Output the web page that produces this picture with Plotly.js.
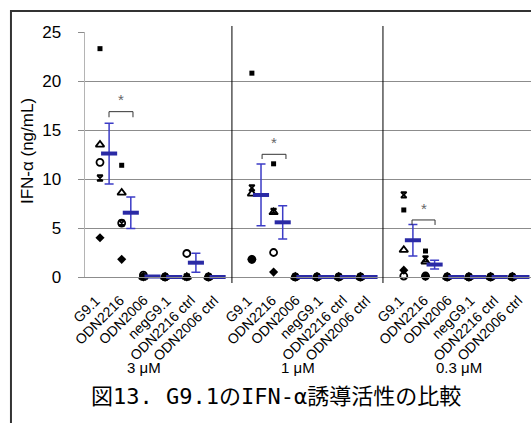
<!DOCTYPE html>
<html>
<head>
<meta charset="utf-8">
<script src="https://cdn.plot.ly/plotly-3.0.1.min.js"></script>
<style>html,body{margin:0;padding:0;background:#fff;overflow:hidden;}#chart{width:531px;height:423px;}</style>
</head>
<body>
<div id="chart"></div>
<script>
// ---- data ----
const categories = ['G9.1', 'ODN2216', 'ODN2006', 'negG9.1', 'ODN2216 ctrl', 'ODN2006 ctrl'];
const doses = ['3 μM', '1 μM', '0.3 μM'];
// per-donor values (IFN-α ng/mL), order: 3 μM x6, 1 μM x6, 0.3 μM x6
const donorSquare   = [23.3, 11.4, 0, 0, 0, 0,   20.8, 11.55, 0, 0, 0, 0,   6.84, 2.65, 0, 0, 0, 0];
const donorTriangle = [13.5, 8.6, 0, 0, 0, 0,    8.5, 6.6, 0, 0, 0, 0,      2.76, 1.56, 0, 0, 0, 0];
const donorX        = [10.1, 5.5, 0, 0, 0, 0,    9.1, 6.7, 0, 0, 0, 0,      8.37, 1.84, 0, 0, 0, 0];
const donorDiamond  = [4.0, 1.8, 0, 0, 0, 0,     1.8, 0.5, 0, 0, 0, 0,      0.7, 0.05, 0, 0, 0, 0];
const donorCircle   = [11.7, 5.5, 0.2, 0, 2.4, 0, 1.8, 2.5, 0, 0, 0, 0,     0.1, 0.1, 0, 0, 0, 0];
const meanValues    = [12.6, 6.56, 0.05, 0, 1.46, 0, 8.37, 5.58, 0, 0, 0, 0, 3.75, 1.27, 0, 0, 0, 0];
const semValues     = [3.1, 1.6, 0.04, 0, 0.97, 0,  3.15, 1.7, 0, 0, 0, 0,  1.6, 0.45, 0, 0, 0, 0];
const yTicks = [0, 5, 10, 15, 20, 25];
const yTitle = 'IFN-α (ng/mL)';
const figTitle = '図13. G9.1のIFN-α誘導活性の比較';

// ---- positions (layout) ----
const SANS = '"Liberation Sans", Arial, sans-serif';
const GROUP = 7;          // 6 categories + 1 gap slot
const N = categories.length;
const X_MIN = -0.691, X_MAX = 19.862;
const toPaperX = s => (s - X_MIN) / (X_MAX - X_MIN);
const slotX = [], meanX = [], labelEnd = [], labels = [];
doses.forEach((d, g) => categories.forEach((c, j) => {
  slotX.push(g * GROUP + j);
  meanX.push(g * GROUP + j + 0.42);
  labelEnd.push(g * GROUP + 0.28 + j * 1.09);
  labels.push(c);
}));

function donorTrace(vals, g, symbol, size, lw) {
  return {
    type: 'scatter', mode: 'markers', x: slotX.slice(g * N, g * N + N), y: vals.slice(g * N, g * N + N),
    cliponaxis: false, hoverinfo: 'y', showlegend: false,
    marker: {symbol: symbol, size: size, color: '#000', line: {color: '#000', width: lw}}
  };
}

const traces = [];
doses.forEach((d, g) => {
  const sq = donorTrace(donorSquare, g, 'square', 5, 0);
  const xx = donorTrace(donorX, g, 'hourglass-open', 5.5, 1.8);
  const di = donorTrace(donorDiamond, g, 'diamond', 7, 0);
  const ci = donorTrace(donorCircle, g, 'circle-open', 7, 1.8);
  const tr = donorTrace(donorTriangle, g, 'triangle-up-open', 7.5, 1.8);
  if (g === 0) traces.push(sq, xx, di, ci, tr); else traces.push(sq, xx, tr, di, ci);
});
traces.push({
  type: 'scatter', mode: 'markers', x: meanX, y: meanValues, cliponaxis: false,
  showlegend: false, hoverinfo: 'y',
  marker: {symbol: 'line-ew', size: 11.5, color: '#2a2aa5', line: {color: '#2a2aa5', width: 4}},
  error_y: {type: 'data', array: semValues, visible: true, color: '#3c3cc6', thickness: 1.5, width: 4.5}
});

// separators between dose groups
const shapes = [6.08, 13.04].map(s => ({
  type: 'line', xref: 'paper', yref: 'paper', x0: toPaperX(s), x1: toPaperX(s),
  y0: -0.0245, y1: 1.0245, line: {color: '#000', width: 1}
}));
// significance brackets: [left, right, top, legBottom]
const brackets = [[0.415, 1.52, 16.87, 16.3], [7.47, 8.57, 12.52, 12.04], [14.38, 15.44, 5.82, 5.31]];
const annotations = [];
brackets.forEach(b => {
  shapes.push({type: 'path', xref: 'x', yref: 'y',
    path: `M${b[0]},${b[3]} L${b[0]},${b[2]} L${b[1]},${b[2]} L${b[1]},${b[3]}`,
    line: {color: '#333', width: 1}});
  annotations.push({xref: 'x', yref: 'y', x: (b[0] + b[1]) / 2, y: b[2] + 1.2, text: '*',
    xanchor: 'center', yanchor: 'middle',
    showarrow: false, font: {family: SANS, size: 15, color: '#666'}});
});
// outer border
shapes.push({type: 'rect', xref: 'paper', yref: 'paper', x0: -0.166, x1: 1.05, y0: -0.7, y1: 1.0857,
  line: {color: '#333', width: 2}, fillcolor: 'rgba(0,0,0,0)'});

// category labels (rotated, right/top anchored under the axis)
labels.forEach((t, i) => annotations.push({xref: 'paper', yref: 'paper', x: toPaperX(labelEnd[i]), y: -0.05,
  xanchor: 'right', yanchor: 'top', textangle: -45, text: t, showarrow: false,
  font: {family: SANS, size: 14, color: '#000'}}));
// dose labels
const doseX = [2.03, 9.12, 16.54];
doses.forEach((d, g) => annotations.push({xref: 'paper', yref: 'paper', x: toPaperX(doseX[g]), y: -0.369,
  xanchor: 'center', yanchor: 'middle',
  text: d, showarrow: false, font: {family: SANS, size: 15, color: '#000'}}));
// y title
annotations.push({xref: 'paper', yref: 'paper', x: -0.13, y: 0.514, textangle: -90, text: yTitle,
  xanchor: 'center', yanchor: 'middle',
  showarrow: false, font: {family: SANS, size: 17, color: '#000'}});
// figure caption
annotations.push({xref: 'paper', yref: 'paper', x: 0.428, y: -0.486, text: figTitle,
  xanchor: 'center', yanchor: 'middle',
  showarrow: false, font: {family: '"DejaVu Sans Mono", "Noto Sans CJK JP", monospace', size: 22, color: '#000'}});

const layout = {
  width: 531, height: 423,
  margin: {l: 85, r: 0, t: 32, b: 146, pad: 0},
  paper_bgcolor: '#fff', plot_bgcolor: '#fff',
  showlegend: false,
  font: {family: SANS},
  xaxis: {
    range: [X_MIN, X_MAX], showticklabels: false,
    showgrid: false, zeroline: false, showline: true, linecolor: '#8c8c8c', linewidth: 1,
    ticks: ''
  },
  yaxis: {
    range: [0, 25], tickmode: 'array', tickvals: yTicks,
    tickfont: {family: SANS, size: 17, color: '#000'},
    showgrid: true, gridcolor: '#8c8c8c', gridwidth: 1, zeroline: false,
    showline: true, linecolor: '#b4b4b4', linewidth: 1.5,
    ticks: 'outside', ticklen: 6, tickcolor: '#8c8c8c', ticklabelstandoff: 13
  },
  shapes: shapes,
  annotations: annotations
};

Plotly.newPlot('chart', traces, layout, {staticPlot: true, displayModeBar: false});
</script>
</body>
</html>
